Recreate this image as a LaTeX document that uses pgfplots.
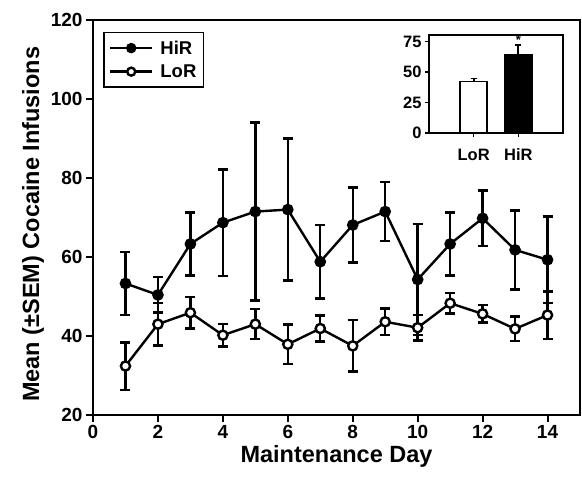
\documentclass[border=0pt]{standalone}
\usepackage{pgfplots}
\pgfplotsset{compat=1.18}
\usepackage{fontspec}
\setmainfont{Liberation Sans}
\usetikzlibrary{calc}
\begin{document}
\begin{tikzpicture}
% main panel
\begin{axis}[name=main, scale only axis, width=487pt, height=395pt,
  xmin=0, xmax=15, ymin=20, ymax=120,
  xtick={0,2,...,14}, ytick={20,40,...,120},
  tick align=outside, xtick pos=bottom, ytick pos=left, major tick length=7pt,
  axis line style={line width=2pt}, tick style={line width=2pt, black},
  ticklabel style={font=\bfseries\fontsize{19}{19}\selectfont},
  /pgf/number format/assume math mode=true,
  xlabel={Maintenance Day}, ylabel={Mean (±SEM) Cocaine Infusions},
  label style={font=\bfseries\fontsize{23.5}{23.5}\selectfont},
  ylabel style={at={(ticklabel cs:0.483)}},
  every axis plot/.append style={line width=2.4pt},
  legend style={at={(0.021,0.97)}, anchor=north west, draw=black, line width=1.6pt,
    font=\bfseries\fontsize{18.5}{18.5}\selectfont, inner xsep=5pt, inner ysep=6pt,
    row sep=5pt, column sep=5pt},
  legend cell align=left,
  legend image code/.code={\draw[mark repeat=2,mark phase=2, mark size=4pt]
    plot coordinates {(0pt,0pt)(21pt,0pt)(42pt,0pt)};},
]
\addplot[black, line width=2.4pt, mark=*, mark size=4.6pt, mark options={fill=black},
  error bars/.cd, y dir=both, y explicit,
  error bar style={line width=2.4pt},
  error mark options={rotate=90, mark size=5pt, line width=2.4pt}]
  coordinates {
  (1,53.3) +- (0,8.0)
  (2,50.4) +- (0,4.5)
  (3,63.3) +- (0,8.0)
  (4,68.7) +- (0,13.5)
  (5,71.5) +- (0,22.5)
  (6,72.0) +- (0,18.0)
  (7,58.8) +- (0,9.3)
  (8,68.1) +- (0,9.5)
  (9,71.5) +- (0,7.5)
  (10,54.3) +- (0,14.0)
  (11,63.3) +- (0,8.0)
  (12,69.8) +- (0,7.0)
  (13,61.8) +- (0,10.0)
  (14,59.3) +- (0,11.0)
  };
\addlegendentry{HiR}
\addplot[black, line width=2.4pt, mark=*, mark size=4.6pt, mark options={fill=white},
  error bars/.cd, y dir=both, y explicit,
  error bar style={line width=2.4pt},
  error mark options={rotate=90, mark size=5pt, line width=2.4pt}]
  coordinates {
  (1,32.4) +- (0,6.0)
  (2,43.0) +- (0,5.4)
  (3,45.9) +- (0,4.0)
  (4,40.2) +- (0,2.9)
  (5,43.0) +- (0,3.8)
  (6,37.9) +- (0,5.0)
  (7,41.9) +- (0,3.3)
  (8,37.5) +- (0,6.5)
  (9,43.6) +- (0,3.4)
  (10,42.1) +- (0,3.2)
  (11,48.3) +- (0,2.6)
  (12,45.6) +- (0,2.2)
  (13,41.8) +- (0,3.1)
  (14,45.3) +- (0,6.0)
  };
\addlegendentry{LoR}
\end{axis}
% inset
\begin{axis}[at={($(main.south west)+(336pt,281.7pt)$)}, anchor=south west,
  scale only axis, width=134pt, height=98pt,
  xmin=0, xmax=3, ymin=0, ymax=80,
  xtick={1,2}, xticklabels={LoR,HiR}, ytick={0,25,50,75},
  tick align=outside, xtick pos=bottom, ytick pos=left, major tick length=4pt,
  axis line style={line width=1.6pt}, tick style={line width=1.6pt, black},
  ticklabel style={font=\bfseries\fontsize{16.5}{16.5}\selectfont},
  xticklabel style={yshift=-8pt},
  /pgf/number format/assume math mode=true,
  ybar, bar width=27pt, bar shift=0pt,
]
\addplot[draw=black, fill=white, line width=1.8pt,
  error bars/.cd, y dir=plus, y explicit,
  error bar style={line width=1.8pt},
  error mark options={rotate=90, mark size=3pt, line width=1.8pt}]
  coordinates {(1,42.3) +- (0,2.5)};
\addplot[draw=black, fill=black, line width=1.8pt,
  error bars/.cd, y dir=plus, y explicit,
  error bar style={line width=1.8pt},
  error mark options={rotate=90, mark size=3pt, line width=1.8pt}]
  coordinates {(2,64.1) +- (0,8.2)};
\node[font=\bfseries\fontsize{13}{13}\selectfont] at (axis cs:2,76.5) {*};
\end{axis}
\pgfresetboundingbox
\path ($(main.south west)+(-93pt,-71pt)$) rectangle ($(main.north east)+(2pt,20pt)$);
\end{tikzpicture}
\end{document}
